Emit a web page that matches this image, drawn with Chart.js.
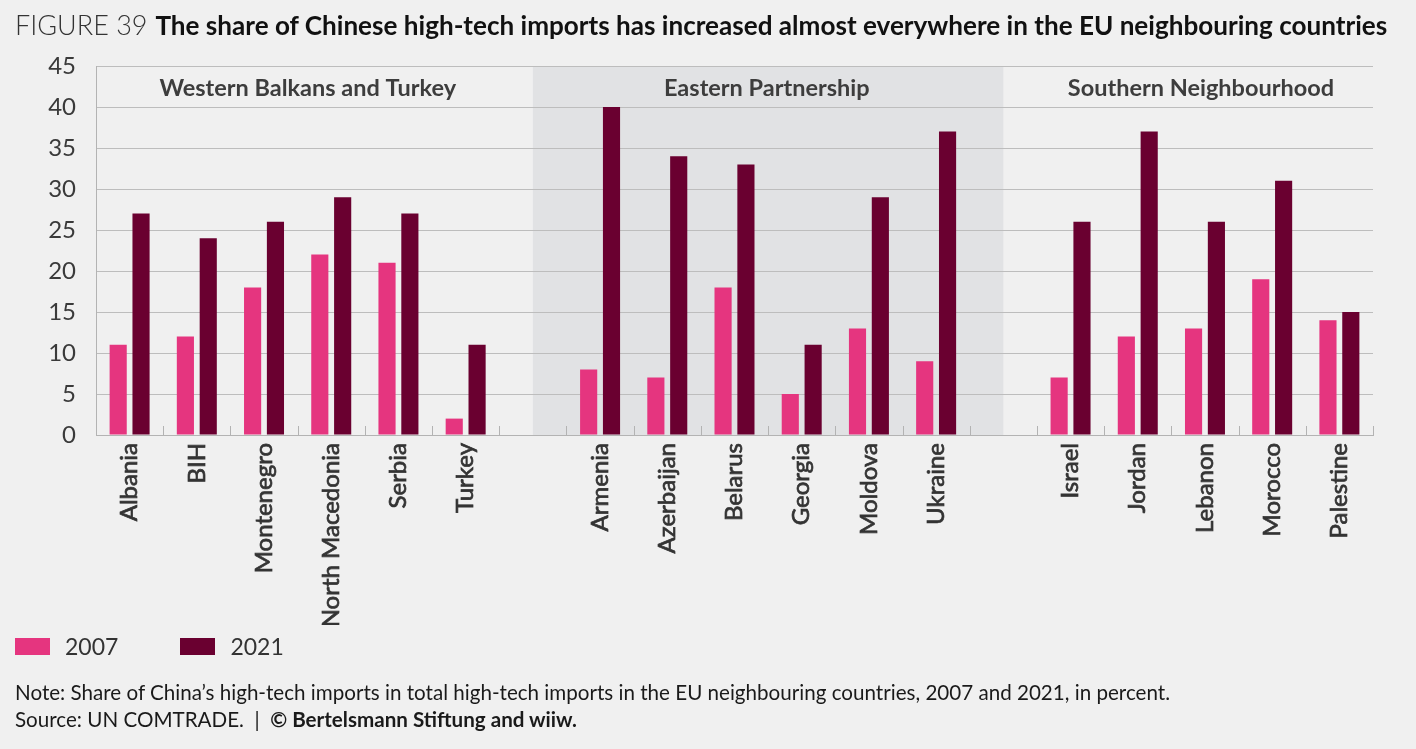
<!DOCTYPE html>
<html>
<head>
<meta charset="utf-8">
<script src="https://cdn.jsdelivr.net/npm/chart.js@4.4.1/dist/chart.umd.min.js"></script>
<style>
  html, body { margin: 0; padding: 0; background: #f0f0f0; }
  body { width: 1416px; height: 749px; position: relative; overflow: hidden; font-family: Lato, "Open Sans", sans-serif; }
  #wrap { position: absolute; left: 0; top: 0; width: 1416px; height: 749px; }
  #title { position: absolute; left: 15px; top: 8px; color: #111; white-space: nowrap; }
  #title .fig { font-weight: 300; color: #333; font-size: 27px; margin-right: 8px; }
  #title .main { font-weight: 700; font-size: 26.1px; }
  #legend { position: absolute; left: 15px; top: 632px; display: flex; align-items: center; font-size: 23px; color: #333; }
  .item { display: flex; align-items: center; margin-right: 62px; }
  .box { width: 35px; height: 17px; margin-right: 15px; }
  #note { position: absolute; left: 15px; top: 679px; font-size: 20.6px; color: #1a1a1a; line-height: 27px; white-space: nowrap; }
</style>
</head>
<body>
<div id="wrap"><canvas id="c"></canvas></div>
<div id="title"><span class="fig">FIGURE 39</span><span class="main">The share of Chinese high-tech imports has increased almost everywhere in the EU neighbouring countries</span></div>
<div id="legend"></div>
<div id="note">Note: Share of China’s high-tech imports in total high-tech imports in the EU neighbouring countries, 2007 and 2021, in percent.<br>Source: UN COMTRADE. &nbsp;| &nbsp;<b>© Bertelsmann Stiftung and wiiw.</b></div>
<script>
const categories = ['Albania','BIH','Montenegro','North Macedonia','Serbia','Turkey','',
  'Armenia','Azerbaijan','Belarus','Georgia','Moldova','Ukraine','',
  'Israel','Jordan','Lebanon','Morocco','Palestine'];
const values2007 = [11,12,18,22,21,2,null,8,7,18,5,13,9,null,7,12,13,19,14];
const values2021 = [27,24,26,29,27,11,null,40,34,33,11,29,37,null,26,37,26,31,15];
const seriesNames = ['2007','2021'];
const groupNames = ['Western Balkans and Turkey','Eastern Partnership','Southern Neighbourhood'];
const yTicks = [0,5,10,15,20,25,30,35,40,45];

const colors = ['#e5357f','#6a0030'];

const lg = document.getElementById('legend');
seriesNames.forEach((n,i)=>{
  const it = document.createElement('div'); it.className='item';
  const b = document.createElement('div'); b.className='box'; b.style.background=colors[i];
  const t = document.createElement('span'); t.textContent=n;
  it.appendChild(b); it.appendChild(t); lg.appendChild(it);
});

const decor = {
  id: 'decor',
  beforeDraw(chart) {
    const {ctx, chartArea: a, scales: {x}} = chart;
    ctx.save();
    const gaps = categories.map((c,i)=>c===''?i:-1).filter(i=>i>=0);
    const x0 = x.getPixelForValue(gaps[0]);
    const x1 = x.getPixelForValue(gaps[1]);
    ctx.fillStyle = '#e1e2e4';
    ctx.fillRect(x0, a.top, x1 - x0, a.bottom - a.top);
    ctx.restore();
  },
  afterDraw(chart) {
    const {ctx, chartArea: a, scales: {x, y}} = chart;
    ctx.save();
    const w = x.getPixelForValue(1) - x.getPixelForValue(0);
    ctx.strokeStyle = '#b3b3b3';
    ctx.lineWidth = 1;
    for (let i = 1; i <= categories.length; i++) {
      const px = Math.round(x.getPixelForValue(0) - w/2 + i*w) + 0.5;
      ctx.beginPath(); ctx.moveTo(px, a.bottom); ctx.lineTo(px, a.bottom - 9); ctx.stroke();
    }
    ctx.fillStyle = '#3d3d3d';
    ctx.font = 'bold 23.5px Lato, sans-serif';
    ctx.textAlign = 'center';
    ctx.textBaseline = 'middle';
    const ly = y.getPixelForValue(42.3);
    const centres = [2.65, 9.48, 15.94];
    groupNames.forEach((g,i)=>{
      const cx = x.getPixelForValue(0) + centres[i]*w;
      ctx.fillText(g, cx, ly);
    });
    ctx.restore();
  }
};

new Chart(document.getElementById('c'), {
  type: 'bar',
  data: {
    labels: categories,
    datasets: [
      { label: seriesNames[0], data: values2007, backgroundColor: colors[0] },
      { label: seriesNames[1], data: values2021, backgroundColor: colors[1] }
    ]
  },
  options: {
    responsive: true,
    maintainAspectRatio: false,
    animation: false,
    devicePixelRatio: 1,
    layout: { padding: { top: 66, right: 43, bottom: 124, left: 0 } },
    datasets: { bar: { categoryPercentage: 0.68, barPercentage: 0.75 } },
    plugins: { legend: { display: false }, tooltip: { enabled: false } },
    scales: {
      x: {
        offset: true,
        grid: { display: false, drawTicks: false },
        border: { display: true, color: '#b3b3b3', width: 1 },
        ticks: {
          autoSkip: false, minRotation: 90, maxRotation: 90, padding: 8,
          color: '#333', textStrokeColor: '#333', textStrokeWidth: 0.7,
          font: { family: 'Lato', size: 24, weight: 'normal' }
        },
        afterFit(s) { s.height = 190; }
      },
      y: {
        min: 0, max: 45,
        afterBuildTicks(s) { s.ticks = yTicks.map(v => ({ value: v })); },
        grid: { color: '#bdbdbd', lineWidth: 1, drawTicks: false },
        border: { display: true, color: '#b3b3b3', width: 1 },
        ticks: { padding: 20, color: '#3a3a3a', font: { family: 'Lato', size: 24 } },
        afterFit(s) { s.width = 96; }
      }
    }
  },
  plugins: [decor]
});
</script>
</body>
</html>
